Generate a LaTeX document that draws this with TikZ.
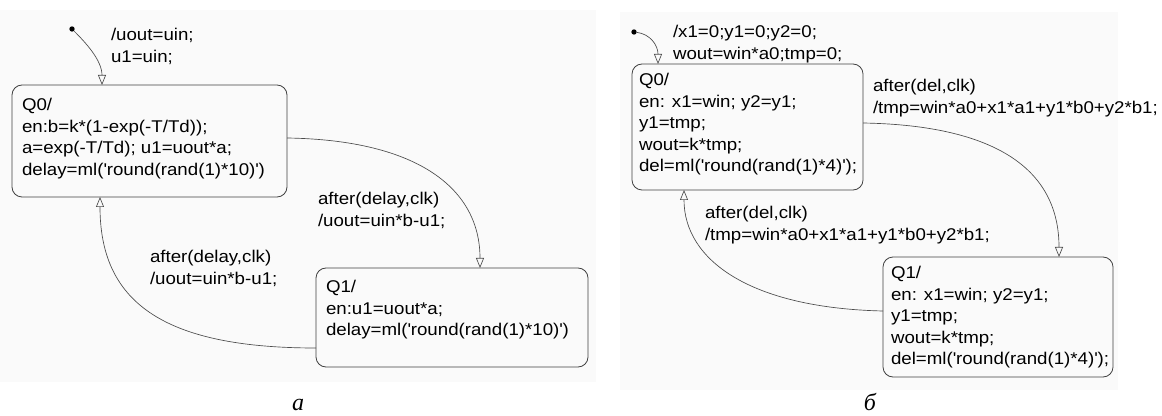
\documentclass[tikz,border=0pt]{standalone}
\usepackage{fontspec}
\setmainfont{Liberation Sans}[FakeStretch=1.1]
\newfontfamily\capfont{Liberation Serif}
\usetikzlibrary{arrows.meta}
\newcommand{\sq}{\textquotesingle}
\tikzset{
  txt/.style={anchor=north west, align=left, inner sep=0pt, outer sep=0pt,
    font=\fontsize{12.75}{16.1}\selectfont},
  statebox/.style={draw=black!75, line width=0.6pt, rounded corners=7.5pt,
    anchor=north west, inner sep=0pt, outer sep=0pt},
  conn/.style={draw=black!70, line width=0.5pt,
    -{Triangle[open, length=7.5pt, width=6pt]}},
  dotnode/.style={circle, fill=black, minimum size=4pt, inner sep=0pt, outer sep=0pt},
  capt/.style={anchor=base, inner sep=0pt, font=\capfont\itshape\fontsize{18}{18}\selectfont}
}
\begin{document}
\begin{tikzpicture}[x=0.75pt,y=-0.75pt]
\useasboundingbox (0,0) rectangle (1162,416);
\fill[black!2] (0,10) rectangle (596,382);
\fill[black!2] (620,12) rectangle (1118,390);

% ---------- left panel ----------
\node[dotnode] (dl) at (72,29) {};
\node[statebox, minimum width=206.25pt, minimum height=84pt] (q0l) at (12,85) {};
\node[statebox, minimum width=204pt, minimum height=74.25pt] (q1l) at (316,268) {};

\node[txt] (initl) at (111,28.5) {/uout=uin;\\u1=uin;};
\node[txt] (q0ltxt) at (22,98.5) {Q0/\\en:b=k*(1-exp(-T/Td));\\a=exp(-T/Td); u1=uout*a;\\delay=ml(\sq round(rand(1)*10)\sq)};
\node[txt] (q1ltxt) at (326,280.5) {Q1/\\en:u1=uout*a;\\delay=ml(\sq round(rand(1)*10)\sq)};
\node[txt] (l01lab) at (318,192.5) {after(delay,clk)\\/uout=uin*b-u1;};
\node[txt] (l10lab) at (150,250.5) {after(delay,clk)\\/uout=uin*b-u1;};

\path (q0l.north west) ++(90,0) coordinate (l0in);
\path (q0l.north east) ++(0,53) coordinate (l01s);
\path (q1l.north west) ++(164,0) coordinate (l01e);
\path (q1l.north west) ++(0,80) coordinate (l10s);
\path (q0l.south west) ++(88,0) coordinate (l10e);

\draw[conn] (dl) .. controls +(13,13) and +(0,-25) .. (l0in);
\draw[conn] (l01s) .. controls +(133,2) and +(0,-78) .. (l01e);
\draw[conn] (l10s) .. controls +(-156,0) and +(0,103) .. (l10e);

\node[capt] (capa) at (298,410) {a};

% ---------- right panel ----------
\node[dotnode] (dr) at (634,32) {};
\node[statebox, minimum width=173.25pt, minimum height=94.5pt] (q0r) at (632,64) {};
\node[statebox, minimum width=172.5pt, minimum height=90pt] (q1r) at (883,257) {};

\node[txt] (initr) at (673,25.5) {/x1=0;y1=0;y2=0;\\wout=win*a0;tmp=0;};
\node[txt] (q0rtxt) at (639,73.5) {Q0/\\en: x1=win; y2=y1;\\y1=tmp;\\wout=k*tmp;\\del=ml(\sq round(rand(1)*4)\sq);};
\node[txt] (q1rtxt) at (891,266.5) {Q1/\\en: x1=win; y2=y1;\\y1=tmp;\\wout=k*tmp;\\del=ml(\sq round(rand(1)*4)\sq);};
\node[txt] (r01lab) at (873,79.5) {after(del,clk)\\/tmp=win*a0+x1*a1+y1*b0+y2*b1;};
\node[txt] (r10lab) at (705,206.5) {after(del,clk)\\/tmp=win*a0+x1*a1+y1*b0+y2*b1;};

\path (q0r.north west) ++(26,0) coordinate (r0in);
\path (q0r.north east) ++(0,59) coordinate (r01s);
\path (q1r.north west) ++(176,0) coordinate (r01e);
\path (q1r.north west) ++(0,54) coordinate (r10s);
\path (q0r.south west) ++(52,0) coordinate (r10e);

\draw[conn] (dr) .. controls +(16,2) and +(0,-19) .. (r0in);
\draw[conn] (r01s) .. controls +(117,2) and +(0,-97) .. (r01e);
\draw[conn] (r10s) .. controls +(-133,-3) and +(0,70) .. (r10e);

\node[capt] (capb) at (870,410) {б};
\end{tikzpicture}
\end{document}
